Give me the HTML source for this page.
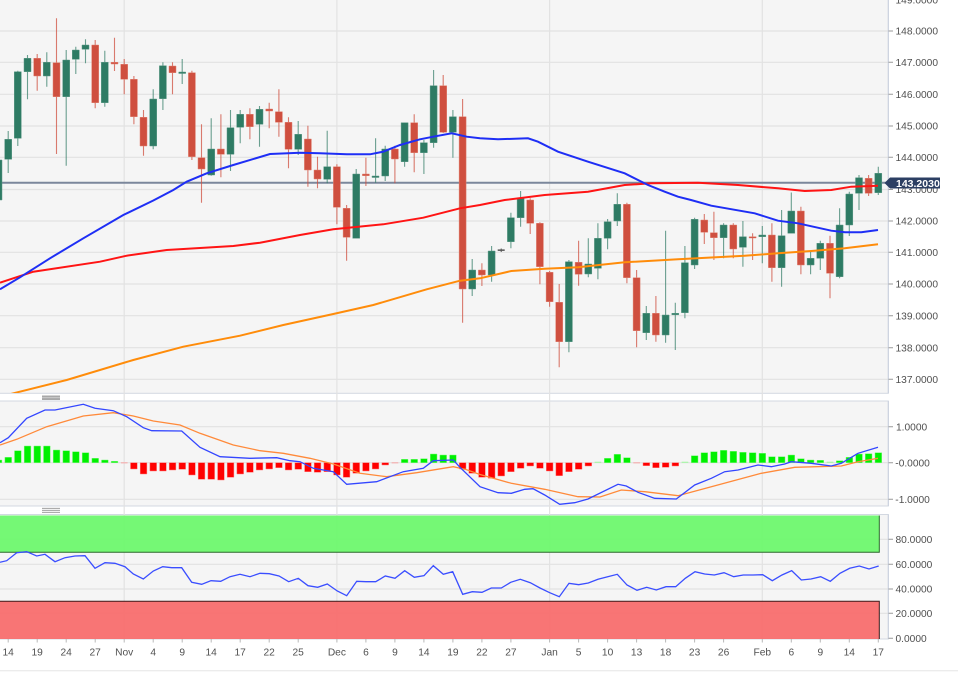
<!DOCTYPE html>
<html><head><meta charset="utf-8"><style>
html,body{margin:0;padding:0;background:#fff;}
svg{display:block;font-family:"Liberation Sans",Arial,sans-serif;}
</style></head><body>
<svg width="958" height="674" viewBox="0 0 958 674" xmlns="http://www.w3.org/2000/svg">
<defs>
<clipPath id="cp"><rect x="0" y="0" width="888" height="393"/></clipPath>
<clipPath id="cm"><rect x="0" y="401" width="888" height="105"/></clipPath>
<clipPath id="cr"><rect x="0" y="514" width="888" height="125"/></clipPath>
</defs>
<rect width="958" height="674" fill="#fff"/>
<!-- pane backgrounds -->
<rect x="-1" y="-1" width="889.3" height="394.3" fill="#f5f5f5" stroke="#d3d8e1" stroke-width="1"/>
<rect x="-1" y="401" width="889.3" height="105" fill="#f5f5f5" stroke="#d3d8e1" stroke-width="1"/>
<rect x="-1" y="514.5" width="889.3" height="124.5" fill="#f5f5f5" stroke="#d3d8e1" stroke-width="1"/>
<!-- grid -->
<g stroke="#e2e2e2" stroke-width="1.2" fill="none">
<path d="M0 31H888M0 62.3H888M0 94.3H888M0 126H888M0 157.3H888M0 189.5H888M0 221H888M0 252.3H888M0 284H888M0 315.7H888M0 347.7H888M0 379.3H888"/>
<path d="M0 426.7H888M0 462.7H888M0 499.3H888"/>
<path d="M0 539.3H888M0 564.3H888M0 589H888M0 613.3H888"/>
<path d="M124.2 0V639M336.9 0V639M549.6 0V639M762.3 0V639"/>
</g>
<!-- handles -->
<rect x="42" y="395.5" width="18" height="4.5" fill="#a8a8a8"/>
<line x1="42" y1="397.7" x2="60" y2="397.7" stroke="#d0d0d0" stroke-width="0.8"/>
<g stroke="#909090" stroke-width="0.9"><path d="M42 508.3H60M42 510.3H60M42 512.3H60"/></g>

<!-- PRICE PANE -->
<g clip-path="url(#cp)">
<line x1="0" y1="182.7" x2="886" y2="182.7" stroke="#7b879b" stroke-width="2"/>
<!-- wicks -->
<path stroke="#2e7b64" stroke-opacity="0.7" stroke-width="1.1" fill="none" d="M-1.5 155V205M8.2 131V173M17.8 70.7V146M27.5 55V99.3M46.8 52.3V86.7M66.2 50V165.7M75.8 46.7V74M85.5 39.3V63.3M104.8 50.7V106.7M153.2 89.3V149.3M162.9 62.3V110M182.2 59V84M211.2 118.3V175.7M230.5 110V171M240.2 110V143.3M259.5 106V146.7M298.2 121V155M327.2 130.7V183.3M356.2 169V238.3M375.6 138.3V182.7M385.2 145.7V181M404.6 122.7V166.7M423.9 140V174M433.6 70V147.7M452.9 110V157.7M472.2 259V296M491.6 246V281.7M510.9 212.7V248.3M520.6 191V226.7M568.9 260V352.3M588.3 238.3V277.3M597.9 223.3V279.3M607.6 219V249.3M617.3 193.3V226M646.3 306V340M665.6 230.7V342.7M675.3 302.7V350M684.9 246V318.3M694.6 217.7V269M723.6 223.3V258.3M742.9 221V266.7M762.3 226V263.3M781.6 210V286.7M791.3 192.5V233.3M810.6 251.7V274.3M820.3 240.7V270M839.6 208.3V278.3M849.3 191.7V236M859 175V210M878.3 166.7V195"/>
<path stroke="#cf4f3f" stroke-opacity="0.75" stroke-width="1.1" fill="none" d="M37.2 54V90.7M56.5 18.3V154M95.2 40V108.3M114.5 37.7V71M124.2 59V94.3M133.9 76V124.3M143.5 110V155.7M172.5 62.3V94.3M191.9 70.7V160M201.5 124.3V202.7M220.9 114.3V177.3M249.9 108.3V139.3M269.2 102.7V128.3M278.9 89.3V136.7M288.5 117.3V168.3M307.9 125.7V186.7M317.5 156.7V188.3M336.9 164.3V224.3M346.6 205V260.7M365.9 157.7V186M394.9 145.7V183.3M414.2 114.3V172.3M443.2 75V133M462.6 99V322.7M481.9 263.3V286M530.2 198.3V234M539.9 222.3V284.3M549.6 271V306.7M559.2 284V367.3M578.6 240.7V285.7M626.9 202.7V283.3M636.6 270V347.3M655.9 296V341.7M704.3 214V244M713.9 211.7V260M733.3 223.3V258.3M752.6 233.3V260M771.9 223.3V281.7M800.9 206.7V274.3M830 235.7V298.3M868.6 175V196"/>
<path stroke="#555" stroke-width="1" d="M501.2 248.5V252"/>
<!-- bodies -->
<path fill="#2e7b64" stroke="#5f9a88" stroke-width="0.5" d="M-5 160h7V200h-7zM4.7 139.3h7V159.3h-7zM14.3 71.7h7V138.3h-7zM24 58.3h7V71.7h-7zM43.3 62.3h7V76h-7zM62.7 60h7V96.7h-7zM72.3 50h7V59.3h-7zM82 45h7V49.3h-7zM101.3 62.3h7V102.7h-7zM149.7 99h7V146h-7zM159.4 65.7h7V98.7h-7zM178.7 72h7V73.5h-7zM207.7 149h7V175h-7zM227 127.7h7V154.3h-7zM236.7 114.3h7V127.3h-7zM256 109.3h7V124.3h-7zM294.7 134.3h7V149.3h-7zM323.7 166.7h7V179.3h-7zM352.7 174h7V238.3h-7zM372 176h7V177.5h-7zM381.7 149h7V176h-7zM401.1 122.7h7V161.7h-7zM420.4 142.7h7V152.7h-7zM430.1 85.7h7V142.7h-7zM449.4 116.7h7V132.3h-7zM468.7 270h7V289h-7zM488.1 251h7V275h-7zM507.4 217.7h7V241.7h-7zM517.1 198.3h7V217.7h-7zM565.4 261.7h7V341.7h-7zM584.8 264h7V274h-7zM594.4 238.3h7V268.3h-7zM604.1 221.7h7V238.3h-7zM613.8 204.3h7V221h-7zM642.8 313.3h7V332.7h-7zM662.1 315h7V335h-7zM671.8 313.3h7V314.8h-7zM681.4 262.7h7V312.7h-7zM691.1 219.3h7V265h-7zM720.1 225h7V237.7h-7zM739.4 236.7h7V247.3h-7zM758.8 235h7V236.7h-7zM778.1 235.7h7V267.7h-7zM787.8 211h7V233.3h-7zM807.1 258.3h7V265h-7zM816.8 243.3h7V258.3h-7zM836.1 225h7V276.7h-7zM845.8 194h7V225h-7zM855.5 177.7h7V193.3h-7zM874.8 173.3h7V192.7h-7z"/>
<path fill="#cf4f3f" stroke="#e08474" stroke-width="0.5" d="M33.7 58.3h7V76h-7zM53 62.7h7V96.7h-7zM91.7 45h7V102.7h-7zM111 62.3h7V64h-7zM120.7 64.3h7V79.3h-7zM130.4 79.3h7V116.7h-7zM140 117.3h7V146h-7zM169 66h7V72.7h-7zM188.4 72.7h7V156.7h-7zM198 157.7h7V169h-7zM217.4 149h7V154.3h-7zM246.4 114.3h7V126.7h-7zM265.7 109h7V111h-7zM275.4 111.7h7V122.3h-7zM285 122.3h7V149.3h-7zM304.4 139h7V170h-7zM314 170h7V179h-7zM333.4 166.7h7V207.3h-7zM343.1 208.3h7V237.3h-7zM362.4 174h7V175.7h-7zM391.4 149h7V159h-7zM410.7 122.7h7V152.7h-7zM439.7 85.7h7V132.3h-7zM459.1 116.7h7V289h-7zM478.4 270h7V275h-7zM526.7 200h7V223.3h-7zM536.4 223.3h7V266.7h-7zM546.1 272.3h7V301.7h-7zM555.7 302.3h7V341.7h-7zM575.1 262.3h7V274.3h-7zM623.4 204.3h7V277.7h-7zM633.1 277.7h7V330.7h-7zM652.4 313.3h7V335h-7zM700.8 220h7V232.3h-7zM710.4 232.7h7V237.7h-7zM729.8 225h7V249h-7zM749.1 236.7h7V238h-7zM768.4 235h7V267.7h-7zM797.4 211h7V265h-7zM826.5 243.3h7V273.3h-7zM865.1 178.3h7V193.3h-7z"/>
<rect x="497.7" y="249.4" width="7" height="1.5" fill="#555"/>
<!-- moving averages -->
<polyline fill="none" stroke="#ff8c0a" stroke-width="2" points="0,397 13.3,393.3 66.7,380 133.3,360 183.3,346.7 240,335.7 283.3,325 333.3,314 373.3,305 426.7,289.3 460,280.7 480,278.3 511.3,271 544.7,268.7 578,267.3 624.7,262.3 678,259.3 744.7,255.7 778,253.3 811.3,251 844.7,248.3 878,244.3"/>
<polyline fill="none" stroke="#ff1414" stroke-width="2" points="0,282.7 33.3,271.7 100,261.7 126.7,255.7 166.7,250 233.3,246 260,242.7 300,235 333.3,229.3 383.3,224.3 423.3,217.7 460,208.3 480,205 504.7,200 544.7,195 588,191.7 624.7,185 651.3,183.3 698,182.7 738,185 778,188.3 804.7,191 831.3,190 851.3,186.7 878,185.7"/>
<polyline fill="none" stroke="#1e2ef5" stroke-width="2" points="0,289.3 20,277.3 50,258.3 83.3,238.3 123.3,215 153.3,200.5 173.3,190 186.7,181.7 206.7,173.3 233.3,165 270,154 300,152.7 320,153.3 346.7,154.3 370,154.3 383.3,151.7 400,145 420,139.3 433.3,136.7 451.7,133.3 466.7,136.7 480,138.3 498,139.3 528,138.3 538,141.7 558,151.7 588,161.7 624.7,173.3 648,185 664.7,191.7 678,196.7 691,200 711.3,205.7 754.7,213.3 778,220.7 798,223.3 831.3,230.7 845,232.3 861.3,232.3 878,230"/>
</g>

<!-- MACD PANE -->
<g clip-path="url(#cm)">
<path fill="#00f000" stroke="#7cf87c" stroke-width="0.5" d="M-4.8 460h6.7V462.7h-6.7zM4.9 457.3h6.7V462.7h-6.7zM14.5 450.7h6.7V462.7h-6.7zM24.2 446h6.7V462.7h-6.7zM33.9 446h6.7V462.7h-6.7zM43.5 446h6.7V462.7h-6.7zM53.2 450h6.7V462.7h-6.7zM62.9 450.7h6.7V462.7h-6.7zM72.5 451.7h6.7V462.7h-6.7zM82.2 452.7h6.7V462.7h-6.7zM91.9 458.3h6.7V462.7h-6.7zM101.5 460h6.7V462.7h-6.7zM111.2 461.3h6.7V462.7h-6.7zM401.3 459.3h6.7V462.7h-6.7zM410.9 459.3h6.7V462.7h-6.7zM420.6 458.7h6.7V462.7h-6.7zM430.3 454h6.7V462.7h-6.7zM439.9 455h6.7V462.7h-6.7zM449.6 455h6.7V462.7h-6.7zM604.3 458.3h6.7V462.7h-6.7zM614 454.3h6.7V462.7h-6.7zM623.6 457.7h6.7V462.7h-6.7zM691.3 455.7h6.7V462.7h-6.7zM701 452.7h6.7V462.7h-6.7zM710.6 451.7h6.7V462.7h-6.7zM720.3 450.3h6.7V462.7h-6.7zM730 451.3h6.7V462.7h-6.7zM739.6 452.3h6.7V462.7h-6.7zM749.3 452.7h6.7V462.7h-6.7zM759 453.3h6.7V462.7h-6.7zM768.6 456.7h6.7V462.7h-6.7zM778.3 456.7h6.7V462.7h-6.7zM788 455h6.7V462.7h-6.7zM797.6 458.7h6.7V462.7h-6.7zM807.3 460h6.7V462.7h-6.7zM817 460.3h6.7V462.7h-6.7zM836.3 460.7h6.7V462.7h-6.7zM846 457.3h6.7V462.7h-6.7zM855.7 454h6.7V462.7h-6.7zM865.3 453.7h6.7V462.7h-6.7zM875 452.7h6.7V462.7h-6.7z"/>
<path fill="#ff0000" stroke="#ff7c7c" stroke-width="0.5" d="M130.5 462.7h6.7V469h-6.7zM140.2 462.7h6.7V474h-6.7zM149.9 462.7h6.7V471h-6.7zM159.6 462.7h6.7V471h-6.7zM169.2 462.7h6.7V470h-6.7zM178.9 462.7h6.7V469.3h-6.7zM188.6 462.7h6.7V475h-6.7zM198.2 462.7h6.7V479.3h-6.7zM207.9 462.7h6.7V479.3h-6.7zM217.6 462.7h6.7V480h-6.7zM227.2 462.7h6.7V477.3h-6.7zM236.9 462.7h6.7V474h-6.7zM246.6 462.7h6.7V472.3h-6.7zM256.2 462.7h6.7V470h-6.7zM265.9 462.7h6.7V469h-6.7zM275.6 462.7h6.7V467.7h-6.7zM285.2 462.7h6.7V470h-6.7zM294.9 462.7h6.7V469.3h-6.7zM304.6 462.7h6.7V471.7h-6.7zM314.2 462.7h6.7V472.3h-6.7zM323.9 462.7h6.7V471.7h-6.7zM333.6 462.7h6.7V475h-6.7zM343.2 462.7h6.7V477.3h-6.7zM352.9 462.7h6.7V473.3h-6.7zM362.6 462.7h6.7V471h-6.7zM372.2 462.7h6.7V469h-6.7zM381.9 462.7h6.7V465h-6.7zM459.3 462.7h6.7V469h-6.7zM468.9 462.7h6.7V473.3h-6.7zM478.6 462.7h6.7V477.3h-6.7zM488.3 462.7h6.7V478.3h-6.7zM497.9 462.7h6.7V476h-6.7zM507.6 462.7h6.7V471.7h-6.7zM517.3 462.7h6.7V468.3h-6.7zM526.9 462.7h6.7V466h-6.7zM536.6 462.7h6.7V468.3h-6.7zM546.3 462.7h6.7V471h-6.7zM555.9 462.7h6.7V475.7h-6.7zM565.6 462.7h6.7V471.7h-6.7zM575.3 462.7h6.7V469.3h-6.7zM585 462.7h6.7V466h-6.7zM643 462.7h6.7V465.7h-6.7zM652.6 462.7h6.7V467.7h-6.7zM662.3 462.7h6.7V467.3h-6.7zM672 462.7h6.7V466h-6.7z"/>
<g fill="#f5b0b0"><rect x="120.9" y="462.2" width="6.7" height="1.2"/><rect x="391.6" y="462.2" width="6.7" height="1.2"/><rect x="633.3" y="462.2" width="6.7" height="1.2"/></g>
<g fill="#a8f5a8"><rect x="594.6" y="461.7" width="6.7" height="1.2"/><rect x="681.6" y="461.7" width="6.7" height="1.2"/><rect x="826.7" y="461.7" width="6.7" height="1.2"/></g>
<polyline fill="none" stroke="#ff8a3a" stroke-width="1.3" points="0,445 16.7,439.3 46.7,426.7 83.3,416 113.3,412.7 133.3,416 153.3,421 180,425 200,433.3 233.3,445 260,450.7 283.3,453.3 310,458.3 333.3,464 360,473.3 386.7,476.7 416.7,472.7 453.3,466.7 466,469.5 480,474.5 511.3,483.3 544.7,489.3 578,496.7 600,497 621.3,490 644.7,491.7 678,495.7 711.3,486.7 761.3,473.3 794.7,467.3 841.3,466 858,461.7 878,458.3"/>
<polyline fill="none" stroke="#3346ff" stroke-width="1.3" points="0,442.7 8.3,437.7 26.7,418.3 45,410 55,410 83.3,404.3 95,408.3 113.3,410.7 126.7,416.7 143.3,427.7 151.7,430.7 181.7,431 200,447.3 220,456.7 250,458.3 276.7,457.7 290,460.7 300,461.7 313.3,468.3 333.3,471.7 346.7,484.3 376.7,481.7 403.3,471.7 423.3,468.3 433.3,460.7 453.3,460 460,467.3 480,486.7 498,492.7 511.3,493.3 524.7,489.3 533,488.7 544.7,495 559.7,504.3 574.7,502.7 588,499 618,484.3 626.3,486 638,492.3 654.7,498.3 676.3,499 694.7,485 711.3,478.3 724.7,471.7 738,470 758,465 771.3,466.7 784.7,464 791.3,461.7 811.3,463.3 831.3,466 841.3,463.3 858,453.3 878,447.3"/>
</g>

<!-- RSI PANE -->
<g clip-path="url(#cr)">
<rect x="0" y="515.5" width="879.3" height="37" fill="#6ef86e" fill-opacity="0.95"/>
<path d="M0 552.3H879.3V515.5" fill="none" stroke="#2a6a2a" stroke-width="1"/>
<rect x="0" y="601" width="879.3" height="38.5" fill="#f86e6e" fill-opacity="0.95"/>
<path d="M0 601.2H879.3V640" fill="none" stroke="#3a1a1a" stroke-width="1"/>
<polyline fill="none" stroke="#3a4eff" stroke-width="1.3" points="0,562.3 6.7,560.7 16.7,552.7 26.7,551.7 36.7,556 45,554.3 55,561.7 65,557.7 75,556 85,555.7 95,568.3 105,562.7 115,563.3 125,566.7 133.3,574 143.3,579 153.3,571 162.7,566.7 171.7,567.7 181.7,567.7 191.7,582.3 201.7,584.3 211,580.7 220.7,581.3 230,576.7 240,574.3 250,576.7 260,573.3 269.3,573.7 279,576 288.7,581.7 298.3,578.3 308,585.7 317.7,587.3 327.3,584 337.3,591 346.7,595.7 356.7,581.3 366,581.7 375.7,581.7 385.3,576 395,578.3 404.7,570.7 414.3,577.3 424,575.7 433.3,565.7 443.3,574.3 452.7,571.7 462.7,594.3 472.3,591.7 482,592.3 491.3,588 501.3,588 510.7,582.3 520.3,579.3 530.3,582.7 540,588 549.7,592.7 559.3,596.7 569,583.3 578.7,584.7 588.3,583 598,579.3 607.7,576.7 617.3,574.3 627,585 637,590.3 646.7,587.3 656.3,590 666,586.7 675.7,586.7 685.3,578.3 695,571.7 704.7,574 714.3,575 724,572.7 733.7,576.7 743.3,575 753,575 762.7,574.7 772.3,580.7 782,575 791.7,570.7 801.3,580 811,579 820.7,576.7 830.3,581.3 840,573.3 849.7,568.3 859.3,566 869,569 878.7,566"/>
</g>

<!-- right axis -->
<g stroke="#c9d0dd" stroke-width="1"><path d="M888.3 0V393.3M888.3 401V506M888.3 514.5V639"/></g>
<g stroke="#999" stroke-width="1"><path d="M888.5 31H893M888.5 62.3H893M888.5 94.3H893M888.5 126H893M888.5 157.3H893M888.5 189.5H893M888.5 221H893M888.5 252.3H893M888.5 284H893M888.5 315.7H893M888.5 347.7H893M888.5 379.3H893M888.5 426.7H893M888.5 462.7H893M888.5 499.3H893M888.5 539.3H893M888.5 564.3H893M888.5 589H893M888.5 613.3H893M888.5 638.3H893"/></g>
<g font-size="10.2" fill="#505050">
<text x="895.5" y="3.6">149.0000</text>
<text x="895.5" y="34.6">148.0000</text>
<text x="895.5" y="65.9">147.0000</text>
<text x="895.5" y="97.9">146.0000</text>
<text x="895.5" y="129.6">145.0000</text>
<text x="895.5" y="160.9">144.0000</text>
<text x="895.5" y="193.1">143.0000</text>
<text x="895.5" y="224.6">142.0000</text>
<text x="895.5" y="255.9">141.0000</text>
<text x="895.5" y="287.6">140.0000</text>
<text x="895.5" y="319.3">139.0000</text>
<text x="895.5" y="351.3">138.0000</text>
<text x="895.5" y="382.9">137.0000</text>
<text x="896" y="430.3">1.0000</text>
<text x="895.3" y="466.3">-0.0000</text>
<text x="895.3" y="502.9">-1.0000</text>
<text x="895.5" y="542.9">80.0000</text>
<text x="895.5" y="567.9">60.0000</text>
<text x="895.5" y="592.6">40.0000</text>
<text x="895.5" y="616.9">20.0000</text>
<text x="895.5" y="641.9">0.0000</text>
</g>
<!-- price tag -->
<path d="M884.5 183L890 177.5H940V188.5H890Z" fill="#2c3f63"/>
<text x="896" y="186.8" font-size="10.5" font-weight="bold" fill="#fff">143.2030</text>

<!-- date axis -->
<g stroke="#b8b8b8" stroke-width="1"><path d="M8.2 639V642.5M37.2 639V642.5M66.2 639V642.5M95.2 639V642.5M124.2 639V642.5M153.2 639V642.5M182.2 639V642.5M211.2 639V642.5M240.2 639V642.5M269.2 639V642.5M298.2 639V642.5M336.9 639V642.5M365.9 639V642.5M394.9 639V642.5M423.9 639V642.5M452.9 639V642.5M481.9 639V642.5M510.9 639V642.5M549.6 639V642.5M578.6 639V642.5M607.6 639V642.5M636.6 639V642.5M665.6 639V642.5M694.6 639V642.5M723.6 639V642.5M762.3 639V642.5M791.3 639V642.5M820.3 639V642.5M849.3 639V642.5M878.3 639V642.5"/></g>
<g font-size="10.2" fill="#505050" text-anchor="middle">
<text x="8.2" y="655.5">14</text>
<text x="37.2" y="655.5">19</text>
<text x="66.2" y="655.5">24</text>
<text x="95.2" y="655.5">27</text>
<text x="124.2" y="655.5">Nov</text>
<text x="153.2" y="655.5">4</text>
<text x="182.2" y="655.5">9</text>
<text x="211.2" y="655.5">14</text>
<text x="240.2" y="655.5">17</text>
<text x="269.2" y="655.5">22</text>
<text x="298.2" y="655.5">25</text>
<text x="336.9" y="655.5">Dec</text>
<text x="365.9" y="655.5">6</text>
<text x="394.9" y="655.5">9</text>
<text x="423.9" y="655.5">14</text>
<text x="452.9" y="655.5">19</text>
<text x="481.9" y="655.5">22</text>
<text x="510.9" y="655.5">27</text>
<text x="549.6" y="655.5">Jan</text>
<text x="578.6" y="655.5">5</text>
<text x="607.6" y="655.5">10</text>
<text x="636.6" y="655.5">13</text>
<text x="665.6" y="655.5">18</text>
<text x="694.6" y="655.5">23</text>
<text x="723.6" y="655.5">26</text>
<text x="762.3" y="655.5">Feb</text>
<text x="791.3" y="655.5">6</text>
<text x="820.3" y="655.5">9</text>
<text x="849.3" y="655.5">14</text>
<text x="878.3" y="655.5">17</text>
</g>
<line x1="0" y1="670.7" x2="958" y2="670.7" stroke="#e6e6e6" stroke-width="1"/>
</svg>
</body></html>
